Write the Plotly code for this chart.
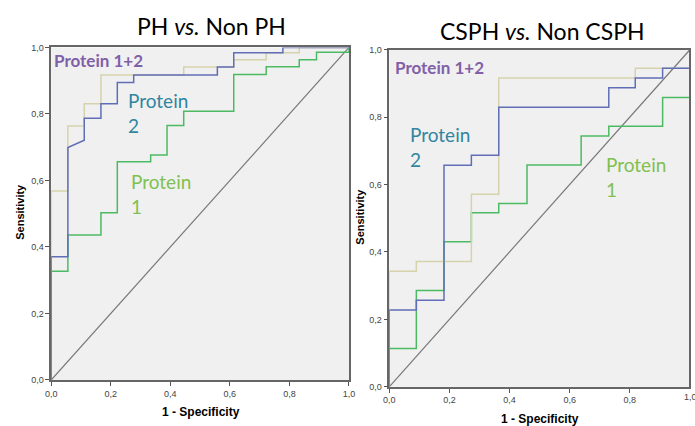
import plotly.graph_objects as go

# ---- data: ROC vertices (1 - specificity, sensitivity) ----
# Left panel: PH vs. Non PH
ph_p12_fpr = [0, 0, 0.056, 0.056, 0.111, 0.111, 0.167, 0.167, 0.445, 0.445, 0.613, 0.613, 0.722, 0.722, 0.833, 0.833, 1.0]
ph_p12_tpr = [0, 0.568, 0.568, 0.764, 0.764, 0.831, 0.831, 0.917, 0.917, 0.941, 0.941, 0.963, 0.963, 0.984, 0.984, 1.0, 1.0]

ph_p2_fpr = [0, 0, 0.056, 0.056, 0.111, 0.111, 0.167, 0.167, 0.222, 0.222, 0.277, 0.277, 0.558, 0.558, 0.613, 0.613, 0.778, 0.778, 1.0]
ph_p2_tpr = [0, 0.371, 0.371, 0.699, 0.721, 0.787, 0.787, 0.831, 0.831, 0.895, 0.895, 0.917, 0.917, 0.941, 0.941, 0.984, 0.984, 1.0, 1.0]

ph_p1_fpr = [0, 0, 0.056, 0.056, 0.167, 0.167, 0.222, 0.222, 0.334, 0.334, 0.389, 0.389, 0.445, 0.445, 0.613, 0.613, 0.722, 0.722, 0.833, 0.833, 0.891, 0.891, 1.0, 1.0]
ph_p1_tpr = [0, 0.327, 0.327, 0.436, 0.436, 0.503, 0.503, 0.656, 0.656, 0.677, 0.677, 0.765, 0.765, 0.808, 0.808, 0.919, 0.919, 0.942, 0.942, 0.963, 0.963, 0.986, 0.986, 1.0]

# Right panel: CSPH vs. Non CSPH
cs_p12_fpr = [0, 0, 0.090, 0.090, 0.273, 0.273, 0.364, 0.364, 0.818, 0.818, 1.0]
cs_p12_tpr = [0, 0.343, 0.343, 0.372, 0.372, 0.571, 0.571, 0.916, 0.916, 0.945, 0.945]

cs_p2_fpr = [0, 0, 0.090, 0.090, 0.182, 0.182, 0.273, 0.273, 0.364, 0.364, 0.730, 0.730, 0.818, 0.818, 0.909, 0.909, 1.0]
cs_p2_tpr = [0, 0.228, 0.228, 0.257, 0.257, 0.657, 0.657, 0.687, 0.687, 0.829, 0.829, 0.887, 0.887, 0.916, 0.916, 0.945, 0.945]

cs_p1_fpr = [0, 0, 0.090, 0.090, 0.182, 0.182, 0.273, 0.273, 0.364, 0.364, 0.458, 0.458, 0.638, 0.638, 0.730, 0.730, 0.909, 0.909, 1.0]
cs_p1_tpr = [0, 0.114, 0.114, 0.286, 0.286, 0.430, 0.430, 0.516, 0.516, 0.544, 0.544, 0.658, 0.658, 0.744, 0.744, 0.773, 0.773, 0.858, 0.858]

ref_line = [0, 1]

tick_vals = [0, 0.2, 0.4, 0.6, 0.8, 1.0]
tick_text = ["0,0", "0,2", "0,4", "0,6", "0,8", "1,0"]

panel_titles = ["PH <i>vs.</i> Non PH", "CSPH <i>vs.</i> Non CSPH"]

C_P12 = "rgb(214,210,172)"
C_P2 = "rgb(96,110,182)"
C_P1 = "rgb(76,186,98)"
C_REF = "rgb(120,120,120)"

W, H = 695, 426

fig = go.Figure()

def add_panel(xa, ya, p12, p2, p1):
    fig.add_trace(go.Scatter(x=ref_line, y=ref_line, mode="lines", line=dict(color=C_REF, width=1.2),
                             xaxis=xa, yaxis=ya, showlegend=False, hoverinfo="skip"))
    fig.add_trace(go.Scatter(x=p1[0], y=p1[1], mode="lines", line=dict(color=C_P1, width=1.5),
                             xaxis=xa, yaxis=ya, showlegend=False))
    fig.add_trace(go.Scatter(x=p12[0], y=p12[1], mode="lines", line=dict(color=C_P12, width=1.5),
                             xaxis=xa, yaxis=ya, showlegend=False))
    fig.add_trace(go.Scatter(x=p2[0], y=p2[1], mode="lines", line=dict(color=C_P2, width=1.5),
                             xaxis=xa, yaxis=ya, showlegend=False))

add_panel("x", "y", (ph_p12_fpr, ph_p12_tpr), (ph_p2_fpr, ph_p2_tpr), (ph_p1_fpr, ph_p1_tpr))
add_panel("x2", "y2", (cs_p12_fpr, cs_p12_tpr), (cs_p2_fpr, cs_p2_tpr), (cs_p1_fpr, cs_p1_tpr))

axis_common = dict(tickmode="array", tickvals=tick_vals, ticktext=tick_text, ticks="outside",
                   ticklen=4, tickcolor="#555", tickfont=dict(family="Arial", size=9, color="#444"),
                   showline=True, linecolor="#666", linewidth=1.5, mirror=True,
                   showgrid=False, zeroline=False, fixedrange=True)

def px_x(p):
    return p / W

def px_y(p):
    return 1 - p / H

fig.update_layout(
    width=W, height=H, margin=dict(l=0, r=0, t=0, b=0),
    paper_bgcolor="white", plot_bgcolor="#f0f0f0",
    xaxis=dict(domain=[px_x(46), px_x(349)], range=[0, 1], anchor="y", **axis_common),
    yaxis=dict(domain=[px_y(384), px_y(43.5)], range=[0, 1], anchor="x", **axis_common),
    xaxis2=dict(domain=[px_x(390), 1.0], range=[0, (695 - 390) / 306], anchor="y2", **axis_common),
    yaxis2=dict(domain=[px_y(391), px_y(45.7)], range=[0, 1], anchor="x2", **axis_common),
)

ann = []
def text(x, y, s, size, color, bold=False, angle=0, xanchor="center", family="Lato"):
    ann.append(dict(x=px_x(x), y=px_y(y), xref="paper", yref="paper", text=(f"<b>{s}</b>" if bold else s),
                    showarrow=False, xanchor=xanchor, yanchor="middle", textangle=angle, align="left",
                    font=dict(family=family, size=size, color=color)))

# panel titles
text(209, 22, panel_titles[0], 23, "black")
text(546, 27, panel_titles[1], 23, "black")
# axis titles
text(14, 212, "Sensitivity", 11, "black", bold=True, angle=-90, family="Arial")
text(360, 217, "Sensitivity", 11, "black", bold=True, angle=-90, family="Arial")
text(198, 417, "1 - Specificity", 12, "black", bold=True, family="Arial")
text(543, 424, "1 - Specificity", 12, "black", bold=True, family="Arial")
# cut-off last tick label on right panel
text(697, 401, "1,0", 9, "#444", family="Arial")

C_T12 = "rgb(128,96,168)"
C_T2 = "rgb(49,133,160)"
C_T1 = "rgb(128,192,80)"
# series labels, left
text(47, 57, "Protein 1+2", 17, C_T12, bold=True, xanchor="left")
text(122, 111, "Protein<br>2", 19, C_T2, xanchor="left")
text(125, 194, "Protein<br>1", 19, C_T1, xanchor="left")
# series labels, right
text(394, 64, "Protein 1+2", 17, C_T12, bold=True, xanchor="left")
text(409, 145, "Protein<br>2", 19, C_T2, xanchor="left")
text(608, 176, "Protein<br>1", 19, C_T1, xanchor="left")

fig.update_layout(annotations=ann)
fig.write_html("out.html", config={"displayModeBar": False},
               post_script="document.body.style.margin='0';document.body.style.padding='0';")
